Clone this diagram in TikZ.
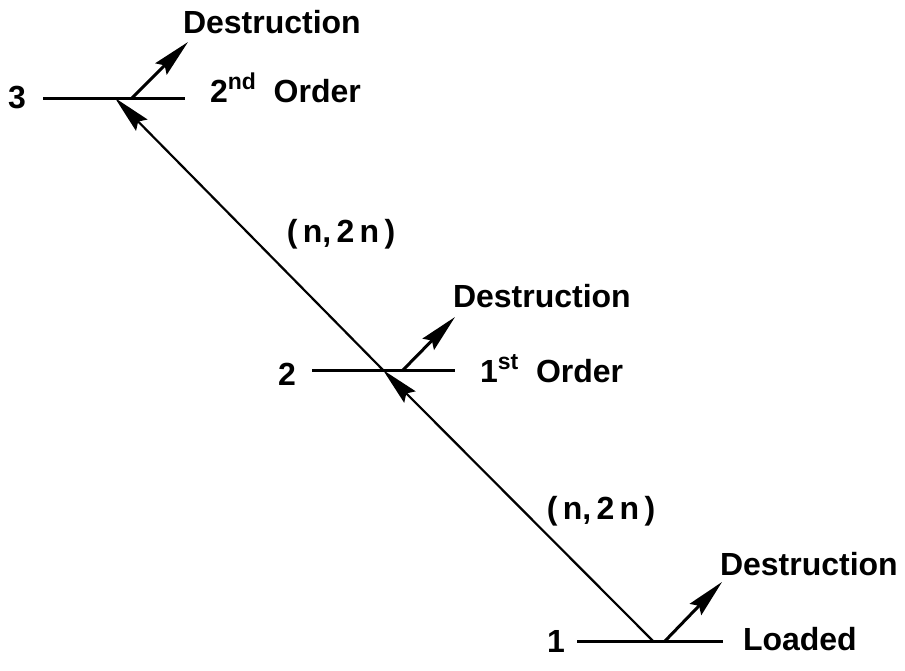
\documentclass[tikz,border=0pt]{standalone}
\usepackage{fontspec}
\setmainfont{Liberation Sans}
\usetikzlibrary{arrows.meta}

\newcommand{\ordsup}[1]{\raisebox{0.38em}{\fontsize{23}{25}\selectfont #1}}

\begin{document}
\begin{tikzpicture}[x=1pt, y=-1pt, font=\fontsize{32}{34}\selectfont\bfseries,
  lvl/.style={line width=3pt},
  lab/.style={inner sep=0pt, outer sep=0pt},
  arr/.style={-{Stealth[length=38pt, width=16pt, inset=5pt]}, line width=2.2pt},
  des/.style={arr, line width=3pt}
]
\useasboundingbox (0,0) rectangle (905,670);

% levels
\coordinate (l3w) at (43,98);   \coordinate (l3e) at (185,98);
\coordinate (l2w) at (312,370); \coordinate (l2e) at (455,370);
\coordinate (l1w) at (577,641); \coordinate (l1e) at (723,641);
\draw[lvl] (l3w) -- (l3e);
\draw[lvl] (l2w) -- (l2e);
\draw[lvl] (l1w) -- (l1e);

\node[lab, anchor=base] (n3) at (17,108) {3};
\node[lab, anchor=base] (n2) at (287,385) {2};
\node[lab, anchor=base] (n1) at (556,652) {1};

\node[lab, anchor=base west] (o2) at (210,102) {2\ordsup{nd}\ \ Order};
\node[lab, anchor=base west] (o1) at (480,382) {1\ordsup{st}\ \ Order};
\node[lab, anchor=base west] (ld) at (743,650) {Loaded};

% (n,2n) chain
\coordinate (p1) at (653,641);
\coordinate (p2) at (383,370);
\coordinate (p3) at (115,98);
\draw[arr] (p1) -- (p2);
\draw[arr] (p2) -- (p3);
\node[lab] (r1) at (601,511) {(\,n,\,2\,n\,)};
\node[lab] (r2) at (341,234) {(\,n,\,2\,n\,)};

% destruction
\coordinate (d3s) at (132,98);  \coordinate (d3e) at (188,42);
\coordinate (d2s) at (403,370); \coordinate (d2e) at (455,317);
\coordinate (d1s) at (665,641); \coordinate (d1e) at (722,582);
\draw[des] (d3s) -- (d3e);
\draw[des] (d2s) -- (d2e);
\draw[des] (d1s) -- (d1e);
\node[lab, anchor=base west] (x3) at (183,33)  {Destruction};
\node[lab, anchor=base west] (x2) at (453,307) {Destruction};
\node[lab, anchor=base west] (x1) at (720,575) {Destruction};
\end{tikzpicture}
\end{document}
